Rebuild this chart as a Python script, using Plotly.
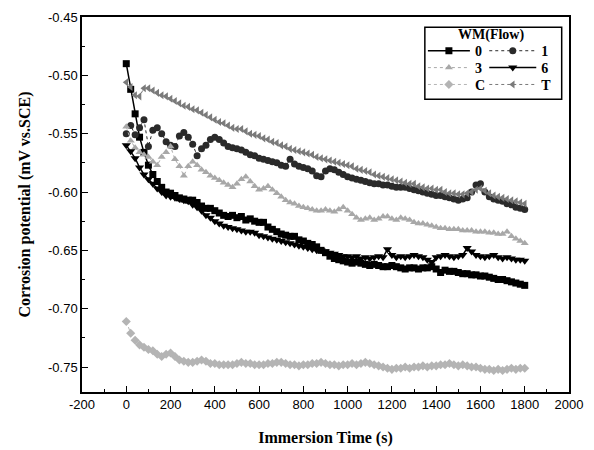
import plotly.graph_objects as go

time_s = list(range(0, 1801, 20))

x_ticks = [-200, 0, 200, 400, 600, 800, 1000, 1200, 1400, 1600, 1800, 2000]
x_ticktext = ["-200", "0", "200", "400", "600", "800", "1000", "1200", "1400", "1600", "1800", "2000"]
y_ticks = [-0.75, -0.70, -0.65, -0.60, -0.55, -0.50, -0.45]
y_ticktext = ["-0.75", "-0.70", "-0.65", "-0.60", "-0.55", "-0.50", "-0.45"]

wm0 = [-0.490, -0.512, -0.533, -0.553, -0.566, -0.577, -0.585, -0.591, -0.596, -0.600,
       -0.601, -0.603, -0.605, -0.606, -0.607, -0.607, -0.609, -0.612, -0.614, -0.614,
       -0.616, -0.618, -0.620, -0.621, -0.620, -0.622, -0.621, -0.624, -0.623, -0.625,
       -0.626, -0.626, -0.630, -0.632, -0.634, -0.636, -0.637, -0.638, -0.638, -0.641,
       -0.642, -0.644, -0.645, -0.647, -0.650, -0.652, -0.655, -0.657, -0.658, -0.659,
       -0.660, -0.661, -0.660, -0.661, -0.662, -0.663, -0.662, -0.663, -0.664, -0.664,
       -0.663, -0.664, -0.665, -0.666, -0.665, -0.665, -0.666, -0.665, -0.665, -0.664,
       -0.666, -0.669, -0.667, -0.668, -0.668, -0.669, -0.670, -0.670, -0.671, -0.671,
       -0.672, -0.672, -0.673, -0.674, -0.675, -0.675, -0.676, -0.677, -0.678, -0.679,
       -0.680]

wm1 = [-0.550, -0.543, -0.551, -0.545, -0.538, -0.561, -0.547, -0.545, -0.550, -0.557,
       -0.560, -0.561, -0.552, -0.549, -0.553, -0.559, -0.569, -0.563, -0.560, -0.555,
       -0.553, -0.555, -0.558, -0.561, -0.562, -0.563, -0.564, -0.566, -0.568, -0.569,
       -0.571, -0.572, -0.573, -0.574, -0.575, -0.577, -0.578, -0.572, -0.576, -0.578,
       -0.579, -0.580, -0.582, -0.586, -0.587, -0.582, -0.580, -0.581, -0.583, -0.585,
       -0.587, -0.588, -0.589, -0.590, -0.591, -0.592, -0.593, -0.593, -0.594, -0.594,
       -0.595, -0.596, -0.596, -0.596, -0.597, -0.598, -0.599, -0.600, -0.601, -0.602,
       -0.603, -0.603, -0.604, -0.605, -0.606, -0.607, -0.606, -0.605, -0.600, -0.594,
       -0.593, -0.600, -0.604, -0.606, -0.607, -0.608, -0.610, -0.611, -0.613, -0.614,
       -0.615]

wm3 = [-0.544, -0.556, -0.562, -0.566, -0.568, -0.570, -0.574, -0.577, -0.570, -0.566,
       -0.561, -0.572, -0.578, -0.586, -0.578, -0.574, -0.577, -0.581, -0.583, -0.586,
       -0.588, -0.590, -0.592, -0.594, -0.596, -0.593, -0.589, -0.587, -0.591, -0.595,
       -0.598, -0.597, -0.595, -0.598, -0.601, -0.604, -0.607, -0.609, -0.610, -0.612,
       -0.613, -0.614, -0.615, -0.616, -0.616, -0.615, -0.616, -0.617, -0.615, -0.613,
       -0.616, -0.619, -0.622, -0.624, -0.623, -0.622, -0.624, -0.623, -0.621, -0.621,
       -0.623, -0.624, -0.622, -0.623, -0.624, -0.626, -0.627, -0.627, -0.628, -0.629,
       -0.630, -0.631, -0.631, -0.632, -0.632, -0.632, -0.633, -0.633, -0.633, -0.634,
       -0.634, -0.634, -0.635, -0.635, -0.636, -0.636, -0.634, -0.638, -0.640, -0.642,
       -0.644]

wm6 = [-0.560, -0.565, -0.571, -0.579, -0.585, -0.589, -0.593, -0.597, -0.600, -0.603,
       -0.604, -0.605, -0.606, -0.607, -0.608, -0.611, -0.613, -0.616, -0.620, -0.622,
       -0.625, -0.627, -0.629, -0.630, -0.631, -0.632, -0.633, -0.634, -0.634, -0.635,
       -0.637, -0.638, -0.639, -0.640, -0.641, -0.642, -0.643, -0.644, -0.645, -0.646,
       -0.647, -0.648, -0.649, -0.650, -0.650, -0.651, -0.652, -0.653, -0.654, -0.655,
       -0.655, -0.656, -0.655, -0.657, -0.656, -0.657, -0.656, -0.655, -0.656, -0.649,
       -0.654, -0.656, -0.655, -0.656, -0.655, -0.654, -0.655, -0.656, -0.658, -0.660,
       -0.656, -0.655, -0.654, -0.655, -0.656, -0.655, -0.654, -0.648, -0.651, -0.654,
       -0.655, -0.656, -0.655, -0.654, -0.656, -0.657, -0.656, -0.657, -0.658, -0.658,
       -0.659]

wmC = [-0.711, -0.721, -0.727, -0.731, -0.733, -0.735, -0.736, -0.739, -0.741, -0.739,
       -0.738, -0.741, -0.744, -0.745, -0.746, -0.746, -0.745, -0.744, -0.745, -0.747,
       -0.747, -0.748, -0.748, -0.748, -0.748, -0.747, -0.746, -0.747, -0.747, -0.748,
       -0.748, -0.748, -0.747, -0.747, -0.746, -0.746, -0.747, -0.748, -0.748, -0.749,
       -0.748, -0.748, -0.747, -0.747, -0.746, -0.747, -0.748, -0.748, -0.749, -0.748,
       -0.748, -0.747, -0.748, -0.747, -0.746, -0.747, -0.748, -0.749, -0.750, -0.751,
       -0.752, -0.751, -0.751, -0.750, -0.751, -0.750, -0.750, -0.749, -0.750, -0.749,
       -0.749, -0.748, -0.748, -0.747, -0.748, -0.749, -0.748, -0.749, -0.750, -0.750,
       -0.751, -0.752, -0.752, -0.753, -0.752, -0.753, -0.752, -0.751, -0.752, -0.751,
       -0.751]

wmT = [-0.506, -0.510, -0.517, -0.518, -0.511, -0.511, -0.513, -0.515, -0.517, -0.518,
       -0.520, -0.522, -0.524, -0.526, -0.527, -0.529, -0.530, -0.532, -0.534, -0.536,
       -0.538, -0.540, -0.541, -0.543, -0.545, -0.546, -0.546, -0.548, -0.550, -0.551,
       -0.552, -0.554, -0.555, -0.557, -0.558, -0.560, -0.561, -0.563, -0.564, -0.565,
       -0.566, -0.567, -0.568, -0.570, -0.571, -0.572, -0.573, -0.574, -0.575, -0.576,
       -0.577, -0.578, -0.580, -0.581, -0.582, -0.583, -0.585, -0.586, -0.587, -0.588,
       -0.589, -0.590, -0.591, -0.592, -0.593, -0.593, -0.595, -0.596, -0.597, -0.597,
       -0.598, -0.598, -0.600, -0.601, -0.601, -0.602, -0.602, -0.601, -0.600, -0.598,
       -0.597, -0.599, -0.601, -0.603, -0.604, -0.605, -0.606, -0.607, -0.608, -0.609,
       -0.610]

# name, values, colour, symbol, size, dash, width
series = [
    ("0", wm0, "#000000", "square", 7, "solid", 1.5),
    ("1", wm1, "#2a2a2a", "circle", 7, "dot", 1),
    ("3", wm3, "#a8a8a8", "triangle-up", 7, "dot", 1),
    ("6", wm6, "#000000", "triangle-down", 8, "solid", 1.5),
    ("C", wmC, "#b4b4b4", "diamond", 7, "dot", 1),
    ("T", wmT, "#7a7a7a", "triangle-left", 7, "dot", 1),
]

serif = "Liberation Serif, Times New Roman, serif"
sans = "Liberation Sans, Arial, sans-serif"

# legend cell placement (paper coords): two columns, three rows
col_x = [0.700, 0.826]
col_w = [42, 47]
row_y = [0.909, 0.864, 0.819]

fig = go.Figure()
legends = {}
for i, (name, vals, col, sym, size, dash, lw) in enumerate(series):
    key = "legend" if i == 0 else f"legend{i + 1}"
    fig.add_trace(go.Scatter(
        x=time_s, y=vals, name=f"<b>{name}</b>", mode="lines+markers",
        line=dict(color=col, width=lw, dash=dash),
        marker=dict(symbol=sym, size=size, color=col, line=dict(width=0)),
        legend=key, showlegend=True,
    ))
    c, r = i % 2, i // 2
    legends[key] = dict(
        x=col_x[c], y=row_y[r], xanchor="left", yanchor="middle",
        itemwidth=col_w[c], bgcolor="rgba(0,0,0,0)", borderwidth=0,
        font=dict(family=serif, size=14, color="black"), tracegroupgap=0,
    )

axis_common = dict(
    showline=True, linecolor="black", linewidth=1.5, mirror=True,
    ticks="inside", ticklen=6, tickwidth=1.2, tickcolor="black",
    showgrid=False, zeroline=False, automargin=False,
    tickfont=dict(family=sans, size=13, color="black"),
)

fig.update_xaxes(
    range=[-200, 2000], tickmode="array", tickvals=x_ticks, ticktext=x_ticktext,
    minor=dict(ticks="inside", ticklen=3, tickwidth=1, tickcolor="black", dtick=100, tick0=-200),
    title=dict(text="<b>Immersion Time (s)</b>", font=dict(family=serif, size=16, color="black"), standoff=20),
    **axis_common,
)
fig.update_yaxes(
    range=[-0.7714, -0.45], tickmode="array", tickvals=y_ticks, ticktext=y_ticktext,
    minor=dict(ticks="inside", ticklen=3, tickwidth=1, tickcolor="black", dtick=0.025, tick0=-0.75),
    title=dict(text="<b>Corrosion potential (mV vs.SCE)</b>", font=dict(family=serif, size=16, color="black"), standoff=13),
    **axis_common,
)

fig.update_layout(
    width=586, height=442,
    margin=dict(l=74, r=25, t=9, b=58),
    paper_bgcolor="white", plot_bgcolor="white",
    showlegend=True,
    shapes=[dict(type="rect", xref="paper", yref="paper", x0=0.704, x1=0.985, y0=0.781, y1=0.973,
                 line=dict(color="black", width=1.5), fillcolor="rgba(0,0,0,0)")],
    annotations=[dict(text="<b>WM(Flow)</b>", xref="paper", yref="paper", x=0.840, y=0.953,
                      xanchor="center", yanchor="middle", showarrow=False,
                      font=dict(family=serif, size=14, color="black"))],
    **legends,
)

fig.write_html("out.html")
